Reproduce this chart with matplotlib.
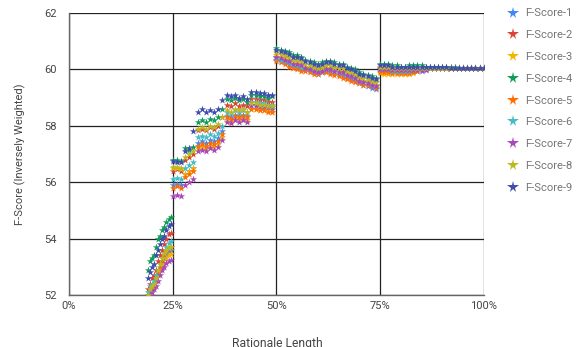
import matplotlib
matplotlib.use("Agg")
import matplotlib.pyplot as plt
from matplotlib.lines import Line2D

plt.rcParams["font.family"] = ["Roboto", "DejaVu Sans"]

# rationale length (%) shared by all series
x = [19, 19.5, 20, 20.5, 21, 21.5, 22, 22.5, 23, 23.5, 24, 24.5] + list(range(25, 101))

f1 = [51.9, 52.1, 52.2, 52.3, 52.5, 52.7, 52.9, 53.1, 53.3, 53.45, 53.55, 53.6,
      55.9, 55.95, 55.9, 56.3, 56.4, 56.5, 57.4, 57.45, 57.4, 57.5, 57.45, 57.55, 57.8,
      58.35, 58.3, 58.4, 58.35, 58.4, 58.35, 58.75, 58.7, 58.7, 58.65, 58.65, 58.6,
      60.35, 60.3, 60.25, 60.2, 60.1, 60.1, 60.05, 60.0, 59.95, 59.9, 59.85, 59.9, 59.95,
      59.95, 59.9, 59.85, 59.8, 59.7, 59.65, 59.6, 59.5, 59.45, 59.4, 59.35, 59.3,
      59.95, 59.95, 59.95, 59.9, 59.9, 59.9, 59.9, 59.9, 59.95, 59.95, 59.95, 60.0, 60.05,
      60.05, 60.05, 60.05, 60.05, 60.05, 60.05, 60.05, 60.05, 60.05, 60.05, 60.05, 60.05, 60.05]
f2 = [52.2, 52.4, 52.6, 52.7, 52.9, 53.2, 53.4, 53.6, 53.8, 54.0, 54.15, 54.2,
      56.4, 56.45, 56.4, 56.8, 56.9, 57.0, 57.85, 57.9, 57.85, 57.95, 57.9, 58.0, 58.3,
      58.75, 58.7, 58.8, 58.7, 58.75, 58.7, 58.95, 58.95, 58.9, 58.9, 58.85, 58.85,
      60.45, 60.4, 60.35, 60.3, 60.2, 60.2, 60.15, 60.1, 60.05, 60.0, 59.95, 60.0, 60.05,
      60.05, 60.0, 59.95, 59.95, 59.85, 59.8, 59.75, 59.65, 59.6, 59.55, 59.5, 59.45,
      60.05, 60.05, 60.0, 60.0, 60.0, 60.0, 60.0, 60.0, 60.05, 60.05, 60.05, 60.05, 60.05,
      60.05, 60.05, 60.05, 60.05, 60.05, 60.05, 60.05, 60.05, 60.05, 60.05, 60.05, 60.05, 60.05]
f3 = [51.9, 52.1, 52.2, 52.3, 52.5, 52.7, 52.9, 53.0, 53.15, 53.3, 53.4, 53.45,
      56.5, 56.5, 56.45, 56.3, 56.4, 56.5, 57.2, 57.25, 57.2, 57.3, 57.25, 57.35, 57.6,
      58.2, 58.15, 58.25, 58.2, 58.25, 58.2, 58.6, 58.6, 58.55, 58.55, 58.55, 58.5,
      60.5, 60.45, 60.4, 60.35, 60.25, 60.25, 60.2, 60.1, 60.05, 60.0, 59.95, 60.0, 60.05,
      60.05, 60.0, 59.95, 59.95, 59.85, 59.8, 59.75, 59.65, 59.6, 59.55, 59.5, 59.45,
      59.88, 59.85, 59.85, 59.85, 59.85, 59.85, 59.85, 59.85, 59.88, 59.95, 60.0, 60.05, 60.05,
      60.05, 60.05, 60.05, 60.05, 60.05, 60.05, 60.05, 60.05, 60.05, 60.05, 60.05, 60.05, 60.05]
f4 = [52.9, 53.2, 53.3, 53.4, 53.7, 54.0, 54.1, 54.3, 54.4, 54.6, 54.7, 54.75,
      56.8, 56.8, 56.75, 57.2, 57.15, 57.25, 58.15, 58.2, 58.15, 58.25, 58.2, 58.3, 58.6,
      58.95, 58.9, 59.0, 58.9, 58.95, 58.85, 59.1, 59.1, 59.05, 59.05, 59.0, 59.05,
      60.75, 60.7, 60.65, 60.6, 60.5, 60.5, 60.45, 60.35, 60.3, 60.25, 60.2, 60.25, 60.3,
      60.3, 60.25, 60.2, 60.2, 60.1, 60.05, 60.0, 59.9, 59.85, 59.8, 59.75, 59.7,
      60.2, 60.2, 60.2, 60.15, 60.15, 60.1, 60.1, 60.15, 60.15, 60.15, 60.15, 60.1, 60.1,
      60.1, 60.1, 60.08, 60.08, 60.07, 60.07, 60.06, 60.06, 60.06, 60.05, 60.05, 60.05, 60.05]
f5 = [52.0, 52.2, 52.3, 52.4, 52.6, 52.8, 53.0, 53.2, 53.4, 53.55, 53.65, 53.7,
      55.8, 55.85, 55.8, 56.2, 56.3, 56.4, 57.3, 57.35, 57.3, 57.4, 57.35, 57.45, 57.7,
      58.3, 58.25, 58.35, 58.3, 58.35, 58.3, 58.6, 58.6, 58.55, 58.55, 58.5, 58.5,
      60.3, 60.25, 60.2, 60.1, 60.05, 60.0, 59.95, 59.95, 59.9, 59.85, 59.85, 59.9, 59.9,
      59.85, 59.8, 59.75, 59.7, 59.65, 59.6, 59.55, 59.5, 59.45, 59.45, 59.4, 59.35,
      59.9, 59.9, 59.9, 59.88, 59.88, 59.88, 59.88, 59.88, 59.9, 59.95, 60.0, 60.05, 60.05,
      60.05, 60.05, 60.05, 60.05, 60.05, 60.05, 60.05, 60.05, 60.05, 60.05, 60.05, 60.05, 60.05]
f6 = [52.1, 52.3, 52.4, 52.5, 52.7, 52.9, 53.1, 53.3, 53.5, 53.7, 53.85, 53.9,
      56.1, 56.15, 56.1, 56.5, 56.6, 56.7, 57.6, 57.65, 57.6, 57.7, 57.65, 57.75, 58.0,
      58.5, 58.45, 58.55, 58.5, 58.55, 58.5, 58.85, 58.85, 58.8, 58.8, 58.75, 58.75,
      60.4, 60.35, 60.3, 60.25, 60.15, 60.15, 60.1, 60.05, 60.0, 59.95, 59.9, 59.95, 60.0,
      60.0, 59.95, 59.9, 59.9, 59.8, 59.75, 59.7, 59.6, 59.55, 59.5, 59.45, 59.4,
      60.0, 60.0, 60.0, 59.95, 59.95, 59.95, 59.95, 59.95, 60.0, 60.0, 60.0, 60.0, 60.05,
      60.05, 60.05, 60.05, 60.05, 60.05, 60.05, 60.05, 60.05, 60.05, 60.05, 60.05, 60.05, 60.05]
f7 = [51.8, 52.0, 52.1, 52.2, 52.3, 52.5, 52.7, 52.9, 53.0, 53.15, 53.2, 53.25,
      55.5, 55.55, 55.5, 55.9, 56.0, 56.1, 57.1, 57.15, 57.1, 57.2, 57.15, 57.25, 57.5,
      58.15, 58.1, 58.2, 58.15, 58.2, 58.15, 58.75, 58.75, 58.7, 58.7, 58.65, 58.65,
      60.45, 60.4, 60.35, 60.3, 60.2, 60.2, 60.15, 60.05, 60.0, 59.95, 59.9, 59.95, 60.0,
      60.0, 59.95, 59.9, 59.9, 59.8, 59.75, 59.7, 59.6, 59.55, 59.5, 59.45, 59.4,
      60.0, 60.0, 60.0, 59.98, 59.98, 59.98, 59.98, 59.98, 59.98, 59.98, 59.98, 59.98, 60.05,
      60.05, 60.05, 60.05, 60.05, 60.05, 60.05, 60.05, 60.05, 60.05, 60.05, 60.05, 60.05, 60.05]
f8 = [52.0, 52.2, 52.3, 52.4, 52.6, 52.9, 53.1, 53.3, 53.5, 53.6, 53.65, 53.7,
      56.55, 56.55, 56.5, 56.9, 57.0, 57.1, 57.9, 57.95, 57.9, 58.0, 57.95, 58.05, 58.3,
      58.55, 58.5, 58.6, 58.55, 58.6, 58.5, 58.8, 58.8, 58.75, 58.75, 58.7, 58.7,
      60.6, 60.55, 60.5, 60.45, 60.35, 60.35, 60.3, 60.2, 60.15, 60.1, 60.05, 60.1, 60.15,
      60.15, 60.1, 60.05, 60.05, 59.95, 59.9, 59.85, 59.75, 59.7, 59.65, 59.6, 59.55,
      60.1, 60.1, 60.1, 60.05, 60.05, 60.05, 60.05, 60.05, 60.05, 60.05, 60.05, 60.05, 60.05,
      60.05, 60.05, 60.05, 60.05, 60.05, 60.05, 60.05, 60.05, 60.05, 60.05, 60.05, 60.05, 60.05]
f9 = [52.6, 52.8, 53.0, 53.1, 53.4, 53.6, 53.8, 54.0, 54.1, 54.3, 54.45, 54.5,
      56.75, 56.7, 56.7, 57.1, 57.2, 57.8, 58.5, 58.6, 58.5, 58.55, 58.5, 58.6, 58.9,
      59.1, 59.05, 59.1, 59.0, 59.05, 58.95, 59.2, 59.2, 59.15, 59.15, 59.1, 59.1,
      60.7, 60.65, 60.6, 60.55, 60.45, 60.45, 60.4, 60.3, 60.25, 60.2, 60.15, 60.2, 60.25,
      60.25, 60.2, 60.15, 60.15, 60.05, 60.0, 59.95, 59.85, 59.8, 59.75, 59.7, 59.65,
      60.15, 60.15, 60.15, 60.1, 60.1, 60.1, 60.1, 60.1, 60.1, 60.1, 60.1, 60.1, 60.08,
      60.08, 60.08, 60.07, 60.07, 60.06, 60.06, 60.06, 60.05, 60.05, 60.05, 60.05, 60.05, 60.05]

series = [f1, f2, f3, f4, f5, f6, f7, f8, f9]
labels = ["F-Score-%d" % i for i in range(1, 10)]
colors = ["#4285F4", "#DB4437", "#F4B400", "#0F9D58", "#FF6D00",
          "#46BDC6", "#AB47BC", "#BDB820", "#3F4DAF"]

xticks = [0, 25, 50, 75, 100]
xticklabels = ["0%", "25%", "50%", "75%", "100%"]
yticks = [52, 54, 56, 58, 60, 62]

fig = plt.figure(figsize=(5.8, 3.47), dpi=100)
ax = fig.add_axes([0.119, 0.15, 0.715, 0.8125])

for vals, col in zip(series, colors):
    ax.scatter(x, vals, marker="*", s=30, color=col, linewidths=0, zorder=3)

ax.set_xlim(0, 100)
ax.set_ylim(52, 62)
ax.set_xticks(xticks)
ax.set_xticklabels(xticklabels)
ax.set_yticks(yticks)
ax.grid(True, color="#222222", linewidth=0.9, zorder=1)
ax.tick_params(length=0, labelsize=8, labelcolor="#444444")
ax.tick_params(axis="y", pad=9)
ax.tick_params(axis="x", pad=4)
for s in ["top", "right"]:
    ax.spines[s].set_visible(False)
for s in ["left", "bottom"]:
    ax.spines[s].set_color("#666666")
    ax.spines[s].set_linewidth(1.0)

ax.set_ylabel("F-Score (Inversely Weighted)", fontsize=8, color="#444444", labelpad=13)
# the label sits at the bottom edge, partly cut off as in the source image
fig.text(0.478, 1 - 337 / 347, "Rationale Length", ha="center", va="top",
         fontsize=8.7, color="#444444")

handles = [Line2D([], [], marker="*", linestyle="none", markersize=8.5, color=c,
                  markeredgewidth=0) for c in colors]
fig.legend(handles, labels, loc="upper left", bbox_to_anchor=(0.862, 0.995),
           frameon=False, fontsize=8, labelcolor="#757575", labelspacing=1.06,
           handletextpad=0.5, handlelength=1.2, borderaxespad=0.2)

fig.savefig("out.png", dpi=100)
